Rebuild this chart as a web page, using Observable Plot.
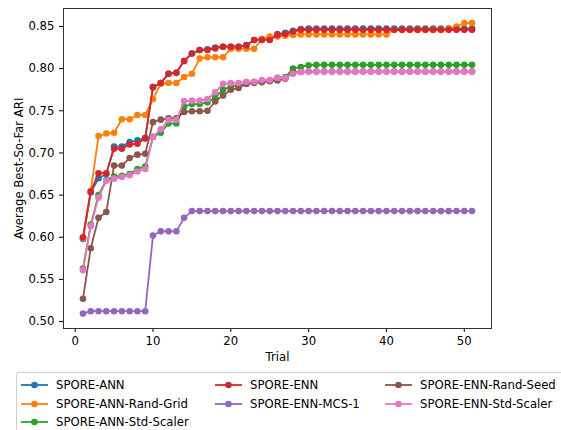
<!DOCTYPE html>
<html>
<head>
<meta charset="utf-8">
<script src="https://cdn.jsdelivr.net/npm/d3@7"></script>
<script src="https://cdn.jsdelivr.net/npm/@observablehq/plot@0.6"></script>
<style>
  html, body { margin: 0; padding: 0; background: #fff; overflow: hidden; }
  #wrap { position: relative; width: 561px; height: 430px; font-family: "DejaVu Sans", sans-serif; }
  #legend { position: absolute; left: 16px; top: 372px; width: 600px; height: 60px;
            border: 1px solid #cfcfcf; border-radius: 3px; background: #fff; box-sizing: border-box; }
  .item { position: absolute; height: 16px; font-size: 11.7px; line-height: 16px; color: #000; white-space: nowrap; }
  .item svg { position: absolute; left: 0; top: 0; }
  .item span { position: absolute; left: 35px; top: 0; }
</style>
</head>
<body>
<div id="wrap"><div id="chart"></div><div id="legend"></div></div>
<script>
const trials = [1,2,3,4,5,6,7,8,9,10,11,12,13,14,15,16,17,18,19,20,21,22,23,24,25,26,27,28,29,30,31,32,33,34,35,36,37,38,39,40,41,42,43,44,45,46,47,48,49,50,51];

const seriesNames = ["SPORE-ANN","SPORE-ANN-Rand-Grid","SPORE-ANN-Std-Scaler","SPORE-ENN","SPORE-ENN-MCS-1","SPORE-ENN-Rand-Seed","SPORE-ENN-Std-Scaler"];
const seriesColors = ["#1f77b4","#ff7f0e","#2ca02c","#d62728","#9467bd","#8c564b","#e377c2"];

const annValues = [0.598,0.653,0.670,0.675,0.7075,0.7075,0.713,0.715,0.718,0.778,0.783,0.794,0.795,0.809,0.818,0.822,0.823,0.825,0.826,0.826,0.826,0.828,0.834,0.835,0.835,0.841,0.8425,0.845,0.847,
  0.8475,0.8475,0.8475,0.8475,0.8475,0.8475,0.8475,0.8475,0.8475,0.8475,0.8475,0.8475,0.8475,0.8475,0.8475,0.8475,0.8475,0.8475,0.8475,0.8475,0.8475,0.8475];
const annRandGridValues = [0.599,0.655,0.720,0.723,0.724,0.740,0.740,0.745,0.745,0.764,0.782,0.783,0.783,0.790,0.794,0.812,0.8135,0.8135,0.8135,0.8235,0.8235,0.8235,0.8235,0.835,0.838,0.838,0.839,0.840,
  0.8405,0.8405,0.8405,0.8405,0.8405,0.8405,0.8405,0.8405,0.8405,0.8405,0.8405,0.8405,0.846,0.846,0.846,0.846,0.846,0.846,0.846,0.8475,0.850,0.854,0.854];
const annStdScalerValues = [0.563,0.615,0.650,0.668,0.672,0.673,0.675,0.681,0.684,0.719,0.724,0.735,0.735,0.755,0.758,0.758,0.760,0.766,0.775,0.779,0.780,0.782,0.784,0.784,0.786,0.789,0.790,0.800,0.802,0.804,
  0.8045,0.8045,0.8045,0.8045,0.8045,0.8045,0.8045,0.8045,0.8045,0.8045,0.8045,0.8045,0.8045,0.8045,0.8045,0.8045,0.8045,0.8045,0.8045,0.8045,0.8045];
const ennValues = [0.600,0.654,0.676,0.676,0.705,0.705,0.710,0.711,0.717,0.778,0.783,0.794,0.795,0.809,0.818,0.822,0.822,0.824,0.826,0.826,0.826,0.8275,0.834,0.834,0.834,0.840,0.841,0.844,0.846,
  0.846,0.846,0.846,0.846,0.846,0.846,0.846,0.846,0.846,0.846,0.846,0.846,0.846,0.846,0.846,0.846,0.846,0.846,0.846,0.846,0.846,0.846];
const ennMcs1Values = [0.5095,0.5123,0.5123,0.5123,0.5123,0.5123,0.5123,0.5123,0.5123,0.602,0.607,0.607,0.607,0.623,0.631,
  0.631,0.631,0.631,0.631,0.631,0.631,0.631,0.631,0.631,0.631,0.631,0.631,0.631,0.631,0.631,0.631,0.631,0.631,0.631,0.631,0.631,0.631,0.631,0.631,0.631,0.631,0.631,0.631,0.631,0.631,0.631,0.631,0.631,0.631,0.631,0.631];
const ennRandSeedValues = [0.527,0.587,0.623,0.630,0.685,0.685,0.694,0.698,0.699,0.7365,0.7395,0.741,0.741,0.7485,0.7495,0.7495,0.750,0.761,0.768,0.775,0.777,0.782,0.783,0.784,0.785,0.786,0.788,0.7955,0.796,
  0.7965,0.7965,0.7965,0.7965,0.7965,0.7965,0.7965,0.7965,0.7965,0.7965,0.7965,0.7965,0.7965,0.7965,0.7965,0.7965,0.7965,0.7965,0.7965,0.7965,0.7965,0.7965];
const ennStdScalerValues = [0.561,0.613,0.647,0.667,0.6695,0.6715,0.6735,0.678,0.681,0.719,0.728,0.739,0.739,0.7615,0.762,0.762,0.764,0.772,0.782,0.7828,0.783,0.7845,0.7845,0.7865,0.7865,0.789,0.789,0.794,0.796,
  0.7965,0.7965,0.7965,0.7965,0.7965,0.7965,0.7965,0.7965,0.7965,0.7965,0.7965,0.7965,0.7965,0.7965,0.7965,0.7965,0.7965,0.7965,0.7965,0.7965,0.7965,0.7965];

const xTicks = [0,10,20,30,40,50];
const yTicks = [0.50,0.55,0.60,0.65,0.70,0.75,0.80,0.85];

const allValues = [annValues, annRandGridValues, annStdScalerValues, ennValues, ennMcs1Values, ennRandSeedValues, ennStdScalerValues];

const marks = [];
seriesNames.forEach((name, i) => {
  const rows = trials.map((t, j) => ({trial: t, value: allValues[i][j], series: name}));
  marks.push(Plot.line(rows, {x: "trial", y: "value", stroke: "series", strokeWidth: 1.8}));
  marks.push(Plot.dot(rows, {x: "trial", y: "value", fill: "series", r: 3.3, stroke: "none"}));
});

const chart = Plot.plot({
  width: 561,
  height: 370,
  marginLeft: 63,
  marginRight: 70,
  marginTop: 8,
  marginBottom: 42,
  style: {fontFamily: "'DejaVu Sans', sans-serif", fontSize: "11.7px", color: "#000", background: "#fff"},
  x: {domain: [-1.5, 53.5]},
  y: {domain: [0.4918, 0.8713]},
  color: {domain: seriesNames, range: seriesColors},
  marks: [
    ...marks,
    Plot.axisX({ticks: xTicks, tickSize: 4, tickPadding: 4, tickFormat: d3.format("d"), label: "Trial", labelAnchor: "center", labelArrow: "none", labelOffset: 32, fontSize: 11.7}),
    Plot.axisY({ticks: yTicks, tickSize: 4, tickPadding: 5, tickFormat: d3.format(".2f"), label: "Average Best-So-Far ARI", labelAnchor: "center", labelArrow: "none", labelOffset: 49, fontSize: 11.7}),
    Plot.frame({stroke: "#333", strokeWidth: 1})
  ]
});
document.getElementById("chart").appendChild(chart);

// legend (matplotlib style, 3 columns)
const legend = document.getElementById("legend");
const colX = [4, 198, 368];
const rowY = [4, 23, 41];
seriesNames.forEach((name, i) => {
  const col = Math.floor(i / 3), row = i % 3;
  const colIdx = i < 3 ? 0 : (i < 5 ? 1 : 2);
  const rowIdx = i < 3 ? i : (i < 5 ? i - 3 : i - 5);
  const div = document.createElement("div");
  div.className = "item";
  div.style.left = colX[colIdx] + "px";
  div.style.top = rowY[rowIdx] + "px";
  div.innerHTML = `<svg width="30" height="16"><line x1="0" x2="27" y1="8" y2="8" stroke="${seriesColors[i]}" stroke-width="1.8"/><circle cx="13.5" cy="8" r="3.3" fill="${seriesColors[i]}"/></svg><span>${name}</span>`;
  legend.appendChild(div);
});
</script>
</body>
</html>
